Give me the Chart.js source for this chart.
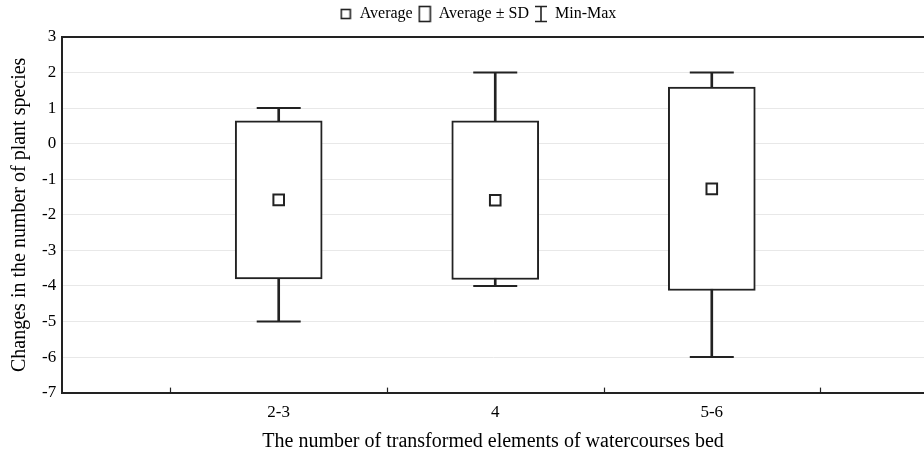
<!DOCTYPE html>
<html>
<head>
<meta charset="utf-8">
<script src="https://cdn.jsdelivr.net/npm/chart.js@4"></script>
<style>
  body { margin: 0; background: #fff; }
  #wrap { width: 924px; height: 457px; }
</style>
</head>
<body>
<div id="wrap"><canvas id="boxChart"></canvas></div>
<script>
// data
var categories = ['2-3', '4', '5-6'];
var positions = [1, 2, 3];
var means = [-1.58, -1.59, -1.27];
var sds = [2.22, 2.23, 2.86];
var mins = [-5, -4, -6];
var maxs = [1, 2, 2];
var yTicks = [3, 2, 1, 0, -1, -2, -3, -4, -5, -6, -7];

var ink = '#222';
var serif = '"Liberation Serif", "DejaVu Serif", serif';

// little canvases for legend markers
function marker(w, h, draw) {
    var c = document.createElement('canvas');
    c.width = w; c.height = h;
    var g = c.getContext('2d');
    g.strokeStyle = ink; g.lineWidth = 1.6;
    draw(g);
    return c;
}
var avgMark = marker(12, 12, function (g) { g.strokeRect(1.5, 1.5, 9, 9); });
var sdMark = marker(14, 18, function (g) { g.strokeRect(1.5, 1.5, 11, 15); });
var mmMark = marker(14, 18, function (g) {
    g.beginPath();
    g.moveTo(1, 1.5); g.lineTo(13, 1.5);
    g.moveTo(7, 1.5); g.lineTo(7, 16.5);
    g.moveTo(1, 16.5); g.lineTo(13, 16.5);
    g.stroke();
});

// legend: a bit more room under it, nudged right like the original
var legendTweak = {
    id: 'legendTweak',
    beforeInit: function (chart) {
        var lg = chart.legend;
        var fit = lg.fit, draw = lg.draw;
        lg.fit = function () {
            fit.bind(lg)();
            this.height += 5;
        };
        lg.draw = function () {
            var c = chart.ctx;
            c.save();
            c.translate(14, 0);
            draw.bind(lg)();
            c.restore();
        };
    }
};

// inward ticks on x axis and top border
var frame = {
    id: 'frame',
    afterDraw: function (chart) {
        var ctx = chart.ctx, a = chart.chartArea, xs = chart.scales.x;
        ctx.save();
        ctx.strokeStyle = ink;
        ctx.lineWidth = 2;
        ctx.beginPath();
        ctx.moveTo(a.left, a.top);
        ctx.lineTo(a.right, a.top);
        ctx.stroke();
        ctx.lineWidth = 1.2;
        [0.5, 1.5, 2.5, 3.5].forEach(function (v) {
            var px = Math.round(xs.getPixelForValue(v)) + 0.5;
            ctx.beginPath();
            ctx.moveTo(px, a.bottom);
            ctx.lineTo(px, a.bottom - 5);
            ctx.stroke();
        });
        ctx.restore();
    }
};

var ctx = document.getElementById('boxChart').getContext('2d');
var chart = new Chart(ctx, {
    type: 'scatter',
    data: {
        datasets: [{
            // whisker stems
            type: 'bar',
            label: 'stem',
            data: positions.map(function (x, i) { return { x: x, y: [mins[i], maxs[i]] }; }),
            backgroundColor: ink,
            borderWidth: 0,
            barThickness: 2,
            grouped: false,
            order: 4
        }, {
            // whisker caps
            label: 'caps',
            data: positions.map(function (x, i) { return { x: x, y: mins[i] }; })
                .concat(positions.map(function (x, i) { return { x: x, y: maxs[i] }; })),
            pointStyle: 'line',
            radius: 22,
            borderColor: ink,
            borderWidth: 2,
            order: 3
        }, {
            // mean +- sd
            type: 'bar',
            label: 'Average ± SD',
            data: positions.map(function (x, i) { return { x: x, y: [means[i] - sds[i], means[i] + sds[i]] }; }),
            backgroundColor: '#fff',
            borderColor: ink,
            borderWidth: 2,
            borderSkipped: false,
            barThickness: 87,
            grouped: false,
            order: 2
        }, {
            label: 'Average',
            data: positions.map(function (x, i) { return { x: x, y: means[i] }; }),
            pointStyle: 'rect',
            radius: 7.5,
            backgroundColor: '#fff',
            borderColor: ink,
            borderWidth: 2,
            order: 1
        }]
    },
    options: {
        responsive: true,
        maintainAspectRatio: false,
        animation: false,
        layout: { autoPadding: false, padding: { left: 4, right: 0, top: 0, bottom: 3 } },
        plugins: {
            tooltip: { enabled: false },
            legend: {
                position: 'top',
                labels: {
                    usePointStyle: true,
                    pointStyleWidth: 12,
                    color: '#000',
                    padding: 6,
                    font: { family: serif, size: 16 },
                    generateLabels: function () {
                        return [
                            { text: 'Average', pointStyle: avgMark, fillStyle: '#fff', strokeStyle: ink, lineWidth: 0, datasetIndex: 3 },
                            { text: 'Average ± SD', pointStyle: sdMark, fillStyle: '#fff', strokeStyle: ink, lineWidth: 0, datasetIndex: 2 },
                            { text: 'Min-Max', pointStyle: mmMark, fillStyle: '#fff', strokeStyle: ink, lineWidth: 0, datasetIndex: 0 }
                        ];
                    }
                },
                onClick: function () {}
            }
        },
        scales: {
            x: {
                type: 'linear',
                min: 0,
                max: 3.98,
                offset: false,
                afterBuildTicks: function (axis) {
                    axis.ticks = [0].concat(positions, [3.98]).map(function (v) { return { value: v }; });
                },
                afterFit: function (axis) {
                    axis.paddingLeft = 0;
                    axis.paddingRight = 0;
                },
                ticks: {
                    color: '#000',
                    padding: 10,
                    font: { family: serif, size: 17 },
                    callback: function (v) {
                        var i = positions.indexOf(v);
                        return i < 0 ? '' : categories[i];
                    }
                },
                grid: { display: false, drawTicks: false },
                border: { display: true, color: ink, width: 2 },
                title: {
                    display: true,
                    text: 'The number of transformed elements of watercourses bed',
                    color: '#000',
                    font: { family: serif, size: 20 },
                    padding: { top: -3, bottom: 0 }
                }
            },
            y: {
                min: -7,
                max: 3,
                afterBuildTicks: function (axis) {
                    axis.ticks = yTicks.map(function (v) { return { value: v }; });
                },
                ticks: {
                    color: '#000',
                    padding: 6,
                    font: { family: serif, size: 17 }
                },
                grid: { color: '#e8e8e8', lineWidth: 1, drawTicks: false },
                border: { display: true, color: ink, width: 2 },
                title: {
                    display: true,
                    text: 'Changes in the number of plant species',
                    color: '#000',
                    font: { family: serif, size: 20 },
                    padding: { bottom: 4 }
                }
            }
        }
    },
    plugins: [legendTweak, frame]
});
</script>
</body>
</html>
